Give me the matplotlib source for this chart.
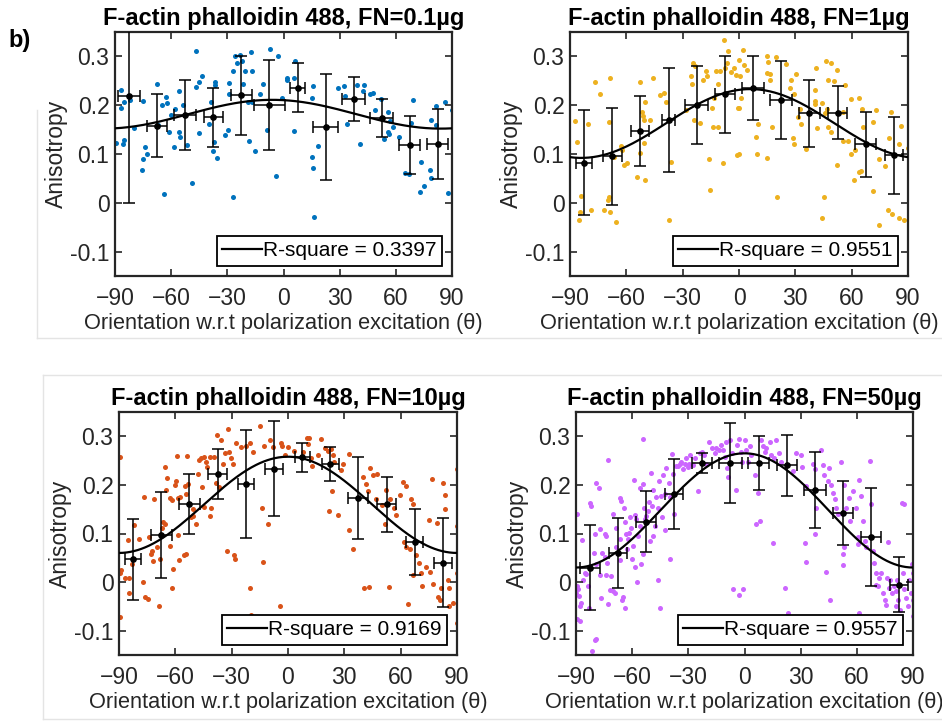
'''
Anisotropy vs orientation for F-actin phalloidin 488 at four FN coatings.
Scatter of single measurements, binned means with error bars, cos^2 fit.
'''

import numpy as np
import matplotlib
matplotlib.use('Agg')
import matplotlib.pyplot as plt
from matplotlib.lines import Line2D

plt.rcParams['font.family'] = ['Liberation Sans', 'DejaVu Sans']

titles = ['F-actin phalloidin 488, FN=0.1µg', 'F-actin phalloidin 488, FN=1µg',
          'F-actin phalloidin 488, FN=10µg', 'F-actin phalloidin 488, FN=50µg']
r_square = ['0.3397', '0.9551', '0.9169', '0.9557']
colors = ['#0072BD', '#EDB120', '#D95319', '#CC66FF']

bin_centers = [-82.5, -67.5, -52.5, -37.5, -22.5, -7.5, 7.5, 22.5, 37.5, 52.5, 67.5, 82.5]

# binned means, y errors and x errors (per panel)
mean_01 = [0.218, 0.158, 0.180, 0.175, 0.220, 0.200, 0.236, 0.155, 0.212, 0.174, 0.118, 0.121]
yerr_01 = [0.218, 0.065, 0.071, 0.060, 0.081, 0.092, 0.050, 0.108, 0.045, 0.039, 0.060, 0.072]
xerr_01 = [5.8, 5.3, 5.8, 5.2, 5.8, 8.4, 3.9, 6.7, 6.0, 6.2, 5.6, 5.6]

mean_1 = [0.082, 0.095, 0.147, 0.170, 0.200, 0.222, 0.235, 0.210, 0.183, 0.185, 0.120, 0.097]
yerr_1 = [0.108, 0.100, 0.071, 0.107, 0.080, 0.078, 0.065, 0.080, 0.069, 0.054, 0.067, 0.079]
xerr_1 = [4.2, 5.1, 4.8, 3.6, 6.2, 5.3, 6.0, 5.8, 5.5, 4.9, 5.5, 4.7]

mean_10 = [0.047, 0.097, 0.160, 0.223, 0.202, 0.233, 0.257, 0.243, 0.173, 0.160, 0.083, 0.040]
yerr_10 = [0.083, 0.089, 0.062, 0.051, 0.111, 0.098, 0.030, 0.035, 0.085, 0.057, 0.068, 0.092]
xerr_10 = [4.4, 5.5, 5.8, 5.1, 4.2, 4.9, 4.0, 4.6, 5.3, 5.1, 4.4, 4.9]

mean_50 = [0.030, 0.060, 0.124, 0.182, 0.245, 0.245, 0.245, 0.240, 0.190, 0.142, 0.093, -0.005]
yerr_50 = [0.088, 0.072, 0.063, 0.072, 0.020, 0.083, 0.055, 0.062, 0.078, 0.065, 0.100, 0.056]
xerr_50 = [5.3, 5.0, 5.2, 4.9, 5.3, 6.0, 5.7, 5.3, 5.8, 5.3, 5.3, 4.7]

# fit: offset + amplitude * cos(2*(theta - phase))
fit_01 = (0.1815, 0.0295, -6.0)
fit_1 = (0.1625, 0.0705, 6.0)
fit_10 = (0.159, 0.099, 0.0)
fit_50 = (0.1475, 0.1175, 0.0)

points_01 = [
    (-89.5, 0.122), (-87, 0.194), (-86.6, 0.231), (-85.4, 0.207), (-85.4, 0.129), (-85.7, 0.12),
    (-82, 0.21), (-80, 0.153), (-75, 0.209), (-74, 0.115), (-73, 0.10), (-75, 0.09), (-75.6, 0.067),
    (-67.5, 0.244), (-67, 0.16), (-65, 0.2), (-63.6, 0.018), (-62.7, 0.216), (-62, 0.204),
    (-61.3, 0.145), (-60.2, 0.18), (-58.5, 0.115), (-57.8, 0.192), (-56, 0.23), (-56, 0.146),
    (-55.5, 0.134), (-53.8, 0.2), (-51.5, 0.119), (-49, 0.04), (-47, 0.311), (-46.7, 0.238),
    (-45, 0.247), (-44.9, 0.143), (-43.5, 0.26), (-40, 0.162), (-38.5, 0.207), (-37.3, 0.124),
    (-37.6, 0.107), (-36.7, 0.248), (-36.4, 0.241), (-35.3, 0.092), (-31.2, 0.138), (-29.6, 0.15),
    (-29.3, 0.245), (-29, 0.223), (-27, 0.271), (-27, 0.012), (-25.9, 0.301), (-25, 0.286),
    (-23.4, 0.303), (-22, 0.291), (-21.6, 0.243), (-20.7, 0.27), (-19, 0.206), (-18.6, 0.126),
    (-17.5, 0.308), (-17, 0.27), (-16.8, 0.206), (-15.4, 0.107), (-12.7, 0.222), (-10.7, 0.243),
    (-8.8, 0.15), (-7.3, 0.315), (-4.1, 0.054), (-3, 0.301), (-0.8, 0.214),
    (6, 0.291), (1.9, 0.256), (1.7, 0.252), (5.4, 0.256), (5.6, 0.148), (15.7, 0.24), (15.2, 0.214),
    (18.4, 0.116), (15.2, 0.093), (15.7, 0.071), (16.1, -0.03), (29, 0.236), (32.3, 0.24),
    (33, 0.218), (34, 0.161), (39.4, 0.241), (42.8, 0.241), (42.6, 0.23), (41, 0.12), (46, 0.223),
    (48, 0.225), (48.7, 0.19), (52.2, 0.213), (56, 0.186), (56.7, 0.167), (58.5, 0.155),
    (55.8, 0.146), (56.5, 0.14), (53.7, 0.131), (61.5, 0.135), (69, 0.21), (68, 0.163), (65, 0.061),
    (66.8, 0.06), (73.6, 0.083), (75.2, 0.035), (72.7, 0.023), (78, 0.067), (78.7, 0.05),
    (78.6, 0.169), (81.6, 0.198), (81.2, 0.159), (86.4, 0.206), (87.6, 0.021), (90, 0.19),
]

points_1 = [
    (-8, 0.333), (-5.6, 0.312), (-87.5, 0.167), (-86.3, 0.124), (-80.4, 0.162), (-76.8, 0.247),
    (-73.8, 0.222), (-68.8, 0.256), (-69.4, 0.165), (-84, 0.013), (-84.5, -0.018), (-85.4, -0.035),
    (-79, -0.015), (-71.9, -0.014), (-69.4, 0.011), (-69.6, 0.005), (-68.5, -0.018), (-65.6, -0.039),
    (-66.7, 0.093), (-63, 0.116), (-62.3, 0.109), (-61, 0.077), (-59.6, 0.082), (-52.5, 0.248),
    (-51.4, 0.187), (-51.2, 0.177), (-49.8, 0.206), (-50.4, 0.17), (-47.2, 0.17), (-50.4, 0.122),
    (-52.5, 0.102), (-54.3, 0.052), (-50, 0.046), (-45.7, 0.256), (-42.2, 0.22), (-40, 0.224),
    (-39, 0.207), (-36.1, 0.084), (-37.4, -0.036), (-28.1, 0.19), (-25.8, 0.26), (-24.4, 0.286),
    (-24.8, 0.243), (-24, 0.17), (-21, 0.163), (-23.2, 0.281), (-19.2, 0.252), (-17.5, 0.27),
    (-16, 0.09), (-17, 0.259), (-15.2, 0.026), (-14.3, 0.194), (-13.8, 0.155), (-11, 0.155),
    (-13.4, 0.214), (-12, 0.27), (-10.2, 0.27), (-11.2, 0.243), (-8.4, 0.082), (-7.5, 0.276),
    (-6.3, 0.286), (-4, 0.269), (-2.7, 0.276), (-1.8, 0.262), (-0.6, 0.194), (-1, 0.097),
    (2.3, 0.314), (-0.2, 0.293), (0.5, 0.259), (0, 0.194), (0.8, 0.214), (2.6, 0.282), (4.4, 0.273),
    (0, 0.099), (10.3, 0.162), (8.8, 0.134), (9.7, 0.1), (15, 0.301), (15.6, 0.289), (14.9, 0.267),
    (16.5, 0.263), (16.5, 0.252), (15, 0.092), (17.4, 0.156), (19.9, 0.298), (20.4, 0.012),
    (24.8, 0.284), (27.5, 0.252), (27.1, 0.235), (30.2, 0.264), (29.3, 0.223), (31.6, 0.175),
    (28.8, 0.133), (29.3, 0.12), (32.8, 0.161), (32.5, 0.193), (35.5, 0.111), (40.5, 0.232),
    (41.2, 0.276), (40.5, 0.209), (40.5, 0.202), (41.7, 0.153), (45.3, 0.012), (44.4, -0.032),
    (46.2, 0.291), (48.8, 0.287), (47.4, 0.252), (50.6, 0.25), (52.4, 0.273), (44.4, 0.204),
    (47.1, 0.192), (45.6, 0.184), (47.4, 0.156), (48.8, 0.146), (52.4, 0.078), (56.3, 0.242),
    (55.6, 0.187), (55.6, 0.126), (58.1, 0.126), (59.5, 0.212), (59.8, 0.101), (61.6, 0.109),
    (61, 0.046), (64.1, 0.215), (65.4, 0.193), (66.3, 0.156), (64, 0.064), (65.2, 0.066),
    (71.6, 0.165), (72.8, 0.19), (71.1, 0.024), (74.3, 0.089), (77.8, 0.076), (74.3, -0.046),
    (79.1, -0.014), (80.8, 0.186), (79.9, 0.133), (85.1, 0.12), (86.2, 0.158), (81.4, -0.022),
    (85.1, -0.031), (87.9, -0.035), (90, 0.112),
]

points_10 = [
    (-89.5, 0.258), (-89.5, 0.018), (-89, 0.024), (-87, 0.008), (-84.5, 0.008), (-85.4, 0.087),
    (-84.8, -0.022), (-81.8, 0.118), (-83.2, 0.038), (-79.5, 0.089), (-77.4, 0.001), (-76.5, 0.175),
    (-74.7, -0.035), (-76, -0.03), (-89.5, -0.072), (-73.8, 0.092), (-73, 0.058), (-72.4, 0.064),
    (-71.7, 0.043), (-71.5, 0.17), (-68.8, -0.05), (-69.9, 0.073), (-68, 0.048), (-66.9, 0.112),
    (-66.4, 0.123), (-65.3, 0.12), (-65.3, 0.236), (-64.6, 0.214), (-65, 0.19), (-63, 0.075),
    (-62.8, 0.173), (-62, -0.013), (-61.7, 0.168), (-61, 0.026), (-60.3, 0.2), (-59.6, 0.208),
    (-59, 0.259), (-58.7, 0.096), (-58.4, 0.173), (-57.5, 0.175), (-58.2, 0.045), (-55.2, 0.055),
    (-54.3, 0.058), (-53.7, 0.26), (-54.8, 0.197), (-54.3, 0.181), (-53, 0.201), (-51.6, 0.133),
    (-50.7, 0.15), (-50.4, 0.136), (-49, 0.119), (-48, 0.222), (-47.5, 0.251), (-46.3, 0.256),
    (-45, 0.258), (-45.7, 0.196), (-44.5, 0.154), (-41.8, 0.136), (-40.9, 0.153), (-43.6, 0.248),
    (-43.2, 0.236), (-41.3, 0.257), (-39.2, 0.258), (-37.9, 0.303), (-35.6, 0.293), (-38.3, 0.204),
    (-36.5, 0.195), (-34.7, 0.242), (-33.8, 0.266), (-31.2, 0.268), (-32.4, 0.064), (-32, 0.316),
    (-30.3, 0.255), (-29.4, 0.244), (-28.5, 0.056), (-28.1, 0.048), (-27.6, 0.286), (-24.9, 0.278),
    (-22.3, 0.28), (-20.5, -0.013), (-20, 0.287), (-19.6, -0.067), (-18.4, 0.268), (-14.8, 0.321),
    (-13.4, 0.041), (-13.7, 0.153), (-12.8, 0.28), (-10.4, 0.119), (-9.8, 0.292), (-8, 0.278),
    (-4.5, -0.049), (-3.6, 0.286), (-3, 0.28), (-1.8, 0.261),
    (-0.2, 0.278), (3.4, 0.27), (7.8, 0.268), (9.9, 0.297), (11.4, 0.296), (10.5, 0.285),
    (12.3, 0.255), (12.8, 0.238), (15.8, 0.261), (17.6, 0.294), (19.9, 0.275), (21.2, 0.27),
    (22.9, 0.274), (23.8, 0.261), (24.4, 0.247), (23.3, 0.188), (21.7, 0.146), (26.5, 0.138),
    (29.2, 0.244), (28.3, 0.23), (32.7, 0.263), (32.4, 0.107), (34.5, 0.068), (40.2, 0.217),
    (41.6, 0.202), (42.5, 0.188), (43.9, 0.235), (45.1, 0.22), (47.6, 0.222), (46.9, 0.17),
    (51.6, 0.119), (50.1, 0.159), (52.3, 0.19), (53.7, -0.01), (54.4, 0.172), (56.7, 0.153),
    (57.3, 0.138), (59.4, 0.18), (61.5, 0.206), (62.6, 0.198), (62.9, 0.072), (63.8, -0.045),
    (65.6, 0.172), (66.8, 0.161), (68.2, 0.055), (69.7, 0.04), (70.9, 0.018), (71.5, -0.008),
    (73.6, 0.031), (75, 0.127), (75.4, 0.021), (76.6, 0.212), (77.2, -0.003), (79.3, 0.122),
    (79.8, -0.03), (80.7, -0.037), (81.6, -0.013), (82.8, 0.204), (83.4, 0.18), (83.6, 0.151),
    (85.2, 0.004), (85.7, -0.013), (86, -0.049), (87.8, -0.043), (90, 0.232), (90, 0.116),
    (90, 0.018), (90, -0.084), (40.5, -0.013), (43, -0.01), (62, 0.082), (65, 0.068), (66.5, 0.014),
]

points_50 = [
    (-89.5, 0.14), (-89.8, -0.023), (-89.5, -0.009), (-89, -0.015), (-88.4, -0.028), (-89.3, -0.075),
    (-88, -0.08), (-87.2, -0.043), (-87.7, -0.05), (-86.6, 0.087), (-86.3, 0.004), (-85.4, 0.018),
    (-84.5, 0.016), (-83.6, -0.009), (-83.1, -0.053), (-82.7, 0.163), (-81.8, 0.156), (-80.6, 0.06),
    (-80, 0.1), (-79.2, 0.204), (-79.2, 0.038), (-79.5, -0.118), (-77.7, 0.194), (-77.4, 0.109),
    (-77, 0.014), (-76.5, -0.033), (-76, 0.06), (-74.7, 0.099), (-73.8, 0.014), (-74.7, 0.052),
    (-73.8, 0.095), (-73.3, 0.039), (-72.9, -0.045), (-72.8, 0.251), (-72, -0.016), (-71.2, 0.012),
    (-70.3, 0.14), (-70.3, -0.019), (-69.4, -0.023), (-68.8, 0.112), (-68.5, 0.073), (-66.7, 0.173),
    (-66.7, 0.089), (-66.4, 0.045), (-65.8, 0.167), (-64.9, -0.03), (-65.3, -0.036), (-64, -0.053),
    (-64.4, 0.153), (-64, 0.123), (-63.2, 0.099), (-62.3, 0.089), (-62.8, 0.068), (-61.7, 0.102),
    (-61, 0.133), (-60.5, 0.112), (-60, 0.048), (-59.6, 0.075), (-59, 0.211), (-58.7, 0.031),
    (-58.7, 0.138), (-57.8, 0.129), (-57.5, 0.001), (-56.9, 0.095), (-56, 0.194), (-55.7, 0.116),
    (-55.2, 0.037), (-54.3, 0.201), (-54.3, 0.058), (-53.7, 0.153), (-53.4, 0.129), (-54.3, 0.294),
    (-52.5, 0.136), (-51.6, 0.146), (-51.1, 0.165), (-50.7, 0.085), (-49.8, 0.225), (-49.3, 0.156),
    (-48.9, 0.19), (-48.9, 0.095), (-48, 0.116), (-47.2, 0.175), (-46.3, 0.004), (-46.3, 0.153),
    (-45.7, 0.209), (-45, -0.053), (-44.5, 0.177), (-44, 0.133), (-43.6, 0.22), (-42.7, 0.107),
    (-42.2, 0.182), (-41.8, 0.234), (-40.4, 0.204), (-40, 0.048), (-39.7, 0.175), (-38.6, 0.263),
    (-38.3, 0.222), (-37.4, 0.14), (-36.5, 0.238), (-35.6, 0.238), (-34.7, 0.242), (-33.8, 0.248),
    (-33, 0.232), (-32, 0.242), (-31.2, 0.256), (-30.3, 0.236), (-29.4, 0.244), (-29, 0.261),
    (-27.6, 0.241), (-26.7, 0.256), (-24.9, 0.187), (-24, 0.265), (-22.6, 0.268), (-21.4, 0.261),
    (-20.5, 0.242), (-18.7, 0.288), (-17.3, 0.275), (-16, 0.265), (-15.2, 0.276), (-13.7, 0.272),
    (-12.5, 0.283), (-11.6, 0.272), (-10.2, 0.258), (-9.8, 0.288), (-9.5, 0.234), (-8.9, 0.217),
    (-8, 0.292), (-6.6, 0.265), (-6.3, -0.015), (-4.5, 0.19), (-4.1, 0.283), (-2.7, -0.026),
    (-2.7, 0.295), (-1.8, 0.268), (-0.9, -0.015), (-1.3, 0.248), (-81.6, -0.141), (-79.9, -0.12),
    (0, 0.292), (1, 0.272), (1.9, 0.248), (2.8, 0.281), (3.6, 0.261), (5.4, 0.221), (6, 0.119),
    (7.2, 0.184), (8.1, 0.126), (9, 0.292), (9.9, 0.281), (10.8, 0.268), (11.6, 0.275), (13.4, 0.288),
    (14.3, 0.261), (15.6, 0.256), (15.2, 0.08), (17, 0.292), (18.4, 0.265), (19.6, 0.248),
    (21.4, -0.013), (23.2, -0.064), (25.9, 0.228), (27.6, 0.265), (30.3, 0.261), (30.8, 0.236),
    (32.1, 0.08), (32.6, 0.041), (33, 0.197), (36.5, 0.244), (37.4, 0.233), (37.8, 0.099),
    (38.3, 0.153), (41, 0.272), (41.9, 0.241), (42.7, 0.221), (43.6, 0.021), (44.5, 0.207),
    (45.1, 0.234), (45.8, -0.036), (46.3, 0.2), (47.2, 0.184), (48.1, 0.17), (49.1, 0.153),
    (50, 0.14), (51.3, 0.248), (52.5, 0.035), (52.5, 0.058), (53.4, 0.072), (53.4, 0.199),
    (54.3, 0.153), (55.7, 0.173), (56.4, 0.126), (57.9, 0.187), (59.6, 0.153), (60.5, 0.092),
    (60.5, 0.079), (61.1, 0.211), (61.4, -0.064), (62.3, 0.177), (63.2, 0.126), (64.1, 0.085),
    (65, 0.072), (66.8, 0.25), (67.6, 0.161), (68.5, 0.065), (69.4, 0.039), (70, 0.018),
    (70.3, -0.006), (71.2, -0.009), (72.1, 0.008), (73, 0.019), (73.9, -0.023), (74.8, -0.036),
    (75.7, -0.047), (76, 0.008), (76.5, 0.082), (77.4, -0.013), (77.8, 0.004), (78.9, -0.023),
    (80.1, -0.009), (80.7, -0.05), (81, -0.019), (81.4, 0.004), (82.1, -0.036), (82.8, -0.057),
    (84.2, 0.163), (85.4, 0.161), (84.5, 0.019), (85.4, -0.015), (86.3, -0.033), (87.2, -0.05),
    (88.1, 0.004), (89, -0.023), (89.6, 0.038), (89.8, -0.07), (89.8, -0.036), (89.8, 0.018),
]

panels = [
    (points_01, mean_01, yerr_01, xerr_01, fit_01),
    (points_1, mean_1, yerr_1, xerr_1, fit_1),
    (points_10, mean_10, yerr_10, xerr_10, fit_10),
    (points_50, mean_50, yerr_50, xerr_50, fit_50),
]

# axes rectangles in pixels (left, top, right, bottom) of a 942x721 canvas
boxes_px = [(115, 32, 452, 276), (570, 32, 908, 276),
            (119, 412, 457, 655), (576, 412, 913, 655)]

W, H = 942, 721
TXT = '#262626'


def draw_panel(ax, idx):
    pts, mean, yerr, xerr, fit = panels[idx]
    pts = np.array(pts)
    ax.scatter(pts[:, 0], pts[:, 1], s=13, c=colors[idx], linewidths=0, zorder=1)

    theta = np.linspace(-90, 90, 361)
    off, amp, ph = fit
    curve = off + amp * np.cos(np.deg2rad(2 * (theta - ph)))
    ax.plot(theta, curve, c='k', lw=1.6, zorder=3, label='R-square = ' + r_square[idx])

    ax.errorbar(bin_centers, mean, yerr=yerr, xerr=xerr, fmt='o', ms=3.8, c='k',
                ecolor='k', elinewidth=1.1, capsize=4, capthick=1.1, zorder=4)

    ax.set_xlim(-90, 90)
    ax.set_ylim(-0.15, 0.35)
    ax.set_xticks([-90, -60, -30, 0, 30, 60, 90])
    ax.set_yticks([-0.1, 0, 0.1, 0.2, 0.3])
    ax.set_yticklabels(['-0.1', '0', '0.1', '0.2', '0.3'])
    ax.tick_params(direction='in', top=True, right=True, length=5, width=1.2,
                   labelsize=16.5, colors=TXT, labelcolor=TXT)
    ax.tick_params(axis='x', pad=8)
    ax.tick_params(axis='y', pad=4)
    for sp in ax.spines.values():
        sp.set_linewidth(1.6)
        sp.set_color(TXT)

    ax.set_title(titles[idx], fontsize=17, fontweight='bold', pad=5)
    ax.set_xlabel('Orientation w.r.t polarization excitation (θ)', fontsize=15.7, color=TXT, labelpad=2)
    ax.set_ylabel('Anisotropy', fontsize=16.5, color=TXT, labelpad=1.5)

    leg = ax.legend(loc='lower right', fontsize=15, frameon=True, fancybox=False,
                    handlelength=1.9, handletextpad=0.05, borderpad=0.25,
                    borderaxespad=0.5, framealpha=1)
    leg.get_frame().set_edgecolor('k')
    leg.get_frame().set_linewidth(1.3)


def main():
    fig = plt.figure(figsize=(W / 100, H / 100), dpi=100)

    # faint outlines of the pasted sub-figures
    grey = '#e4e4e4'
    fig.add_artist(Line2D([37 / W, 37 / W], [1 - 110 / H, 1 - 338 / H], c=grey, lw=1))
    fig.add_artist(Line2D([37 / W, 1], [1 - 338 / H, 1 - 338 / H], c=grey, lw=1))
    fig.add_artist(Line2D([43 / W, 1], [1 - 375 / H, 1 - 375 / H], c=grey, lw=1))
    fig.add_artist(Line2D([43 / W, 43 / W], [1 - 375 / H, 1 - 719 / H], c=grey, lw=1))
    fig.add_artist(Line2D([43 / W, 1], [1 - 719 / H, 1 - 719 / H], c=grey, lw=1))

    for idx, (l, t, r, b) in enumerate(boxes_px):
        ax = fig.add_axes([l / W, 1 - b / H, (r - l) / W, (b - t) / H])
        draw_panel(ax, idx)

    fig.text(8 / W, 1 - 40 / H, 'b)', fontsize=17, fontweight='bold', va='center', ha='left')

    fig.savefig('out.png', dpi=100)


if __name__ == '__main__':
    main()
